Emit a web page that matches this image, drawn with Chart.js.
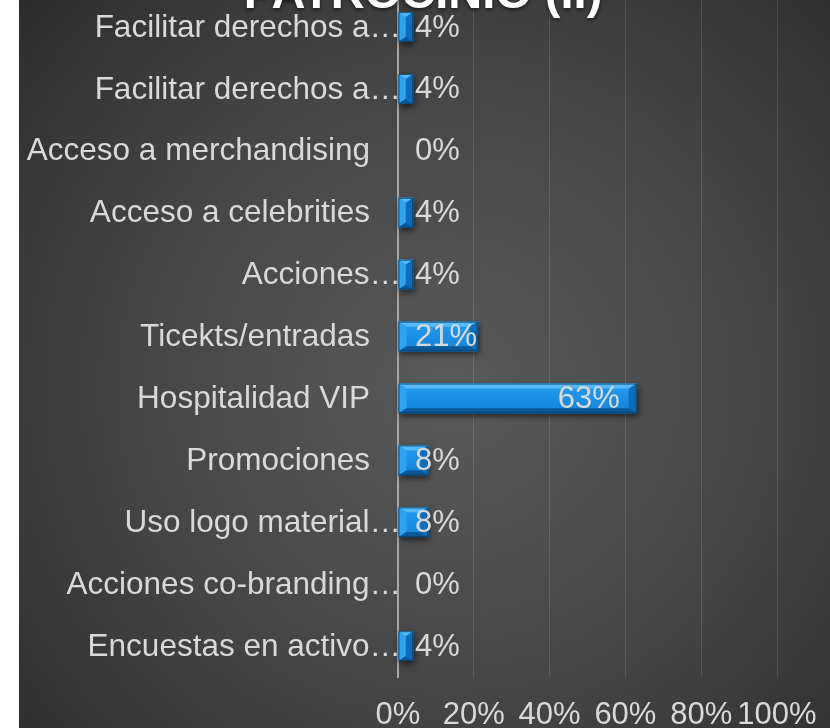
<!DOCTYPE html>
<html>
<head>
<meta charset="utf-8">
<script src="https://cdn.jsdelivr.net/npm/chart.js@4.4.0/dist/chart.umd.min.js"></script>
<style>
  html, body { margin: 0; padding: 0; background: #fff; }
  #wrap { position: relative; width: 830px; height: 728px; overflow: hidden; }
  #chart { position: absolute; left: 0; top: -4px; }
</style>
</head>
<body>
<div id="wrap"><canvas id="chart" width="830" height="732"></canvas></div>
<script>
const titleText = 'PATROCINIO (II)';
const categories = [
  'Facilitar derechos a…',
  'Facilitar derechos a…',
  'Acceso a merchandising',
  'Acceso a celebrities',
  'Acciones…',
  'Ticekts/entradas',
  'Hospitalidad VIP',
  'Promociones',
  'Uso logo material…',
  'Acciones co-branding…',
  'Encuestas en activo…',
];
const values = [4, 4, 0, 4, 4, 21, 63, 8, 8, 0, 4];
const xMin = 0;
const xMax = 100;
const xStep = 20;

const FONT = '"Liberation Sans", Arial, sans-serif';
const TEXT_COLOR = '#d9d9d9';

// dark panel with a soft radial light in the middle
const backgroundPlugin = {
  id: 'panelBackground',
  beforeDraw(chart) {
    const { ctx, width, height } = chart;
    ctx.save();
    ctx.fillStyle = '#ffffff';
    ctx.fillRect(0, 0, width, height);
    const g = ctx.createRadialGradient(450, 390, 0, 450, 390, 600);
    g.addColorStop(0, '#5a5a5a');
    g.addColorStop(0.55, '#444444');
    g.addColorStop(1, '#2a2a2a');
    ctx.fillStyle = g;
    ctx.fillRect(19, 0, width - 19, height);
    ctx.restore();
  },
};

function poly(ctx, pts, color) {
  ctx.beginPath();
  ctx.moveTo(pts[0][0], pts[0][1]);
  for (let i = 1; i < pts.length; i++) ctx.lineTo(pts[i][0], pts[i][1]);
  ctx.closePath();
  ctx.fillStyle = color;
  ctx.fill();
}

// bevelled blue bars drawn over the bar elements' geometry
const bevelBarsPlugin = {
  id: 'bevelBars',
  afterDatasetsDraw(chart) {
    const { ctx } = chart;
    const meta = chart.getDatasetMeta(0);
    meta.data.forEach((bar) => {
      const x0 = Math.min(bar.base, bar.x);
      const x1 = Math.max(bar.base, bar.x);
      const w = x1 - x0;
      if (w < 1) {
        return;
      }
      const top = bar.y - bar.height / 2;
      const bot = bar.y + bar.height / 2;
      const bx = Math.min(8, w / 2);
      const by = 5;

      ctx.save();
      ctx.shadowColor = 'rgba(0,0,0,0.6)';
      ctx.shadowBlur = 6;
      ctx.shadowOffsetX = 1;
      ctx.shadowOffsetY = 3;
      ctx.fillStyle = '#1583d8';
      ctx.fillRect(x0, top, w, bar.height);
      ctx.restore();

      ctx.save();
      const face = ctx.createLinearGradient(0, top, 0, bot);
      face.addColorStop(0, '#229cf0');
      face.addColorStop(1, '#1483d8');
      ctx.fillStyle = face;
      ctx.fillRect(x0, top, w, bar.height);

      poly(ctx, [[x0, top], [x1, top], [x1 - bx, top + by], [x0 + bx, top + by]], '#55baf7');
      poly(ctx, [[x0, top], [x0 + bx, top + by], [x0 + bx, bot - by], [x0, bot]], '#30a3f0');
      poly(ctx, [[x1, top], [x1, bot], [x1 - bx, bot - by], [x1 - bx, top + by]], '#0f6cb7');
      poly(ctx, [[x0, bot], [x1, bot], [x1 - bx, bot - by], [x0 + bx, bot - by]], '#0b5898');

      ctx.strokeStyle = 'rgba(8,60,105,0.8)';
      ctx.lineWidth = 1;
      ctx.strokeRect(x0 + 0.5, top + 0.5, w - 1, bar.height - 1);
      ctx.restore();
    });
  },
};

// percentage labels: inside the bar end, pushed right of the axis when the bar is short
const valueLabelsPlugin = {
  id: 'valueLabels',
  afterDatasetsDraw(chart) {
    const { ctx } = chart;
    const meta = chart.getDatasetMeta(0);
    const zero = chart.scales.x.getPixelForValue(0);
    ctx.save();
    ctx.font = `31px ${FONT}`;
    ctx.fillStyle = TEXT_COLOR;
    ctx.textAlign = 'left';
    ctx.textBaseline = 'middle';
    meta.data.forEach((bar, i) => {
      const txt = `${values[i]}%`;
      const w = ctx.measureText(txt).width;
      const right = bar.x - 17;
      const left = Math.max(zero + 17, right - w);
      ctx.fillText(txt, left, bar.y + 1);
    });
    ctx.restore();
  },
};

// category names; shortened ones (with an ellipsis) run right up to the axis
const categoryLabelsPlugin = {
  id: 'categoryLabels',
  afterDraw(chart) {
    const { ctx } = chart;
    const yScale = chart.scales.y;
    const zero = chart.scales.x.getPixelForValue(0);
    ctx.save();
    ctx.font = `31.5px ${FONT}`;
    ctx.fillStyle = TEXT_COLOR;
    ctx.textAlign = 'right';
    ctx.textBaseline = 'middle';
    categories.forEach((label, i) => {
      const right = label.endsWith('…') ? zero + 3 : zero - 28;
      ctx.fillText(label, right, yScale.getPixelForTick(i) + 1);
    });
    ctx.restore();
  },
};

const titlePlugin = {
  id: 'topTitle',
  afterDraw(chart) {
    const { ctx } = chart;
    ctx.save();
    ctx.font = `bold 47px ${FONT}`;
    ctx.fillStyle = '#ffffff';
    ctx.textAlign = 'center';
    ctx.textBaseline = 'alphabetic';
    ctx.shadowColor = 'rgba(0,0,0,0.6)';
    ctx.shadowBlur = 4;
    ctx.shadowOffsetY = 2;
    ctx.fillText(titleText, 423, 12);
    ctx.restore();
  },
};

const ctx = document.getElementById('chart').getContext('2d');
new Chart(ctx, {
  type: 'bar',
  data: {
    labels: categories,
    datasets: [{
      data: values,
      backgroundColor: 'rgba(0,0,0,0)',
      borderWidth: 0,
      barPercentage: 0.48,
      categoryPercentage: 1,
    }],
  },
  options: {
    indexAxis: 'y',
    responsive: false,
    animation: false,
    layout: {
      padding: { top: 0, right: 53, bottom: 0, left: 0 },
    },
    plugins: {
      legend: { display: false },
      tooltip: { enabled: false },
    },
    scales: {
      x: {
        min: xMin,
        max: xMax,
        ticks: {
          stepSize: xStep,
          autoSkip: false,
          color: TEXT_COLOR,
          font: { family: FONT, size: 31 },
          padding: 20,
          maxRotation: 0,
          callback: (v) => `${v}%`,
        },
        grid: {
          drawTicks: false,
          lineWidth: 1,
          color: (c) => (c.tick && c.tick.value === 0 ? 'rgba(0,0,0,0)' : 'rgba(255,255,255,0.12)'),
        },
        border: { display: false },
        afterFit: (scale) => {
          scale.height = 51;
          scale.paddingLeft = 0;
          scale.paddingRight = 0;
        },
      },
      y: {
        ticks: { display: false },
        grid: { display: false, drawTicks: false },
        border: { display: true, color: '#a6a6a6', width: 2 },
        afterFit: (scale) => {
          scale.width = 398;
          scale.paddingTop = 0;
          scale.paddingBottom = 0;
        },
      },
    },
  },
  plugins: [backgroundPlugin, bevelBarsPlugin, valueLabelsPlugin, categoryLabelsPlugin, titlePlugin],
});
</script>
</body>
</html>
